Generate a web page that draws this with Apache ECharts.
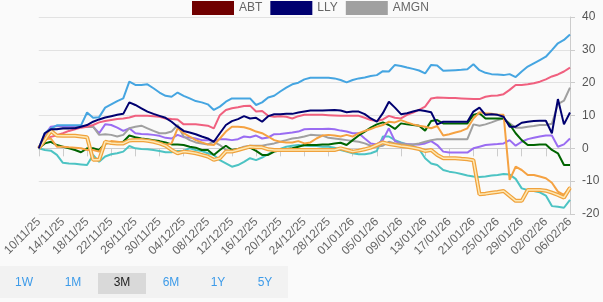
<!DOCTYPE html>
<html lang="en">
<head>
    <meta charset="UTF-8">
    <title>Performance 3M</title>
    <script src="https://cdn.jsdelivr.net/npm/echarts@6/dist/echarts.min.js"></script>
    <style>
        body { margin: 0; background: #fafafa; }
    </style>
</head>
<body>
    <div id="main" style="width: 603px;height:302px;"></div>
    <script type="text/javascript">
        // dates, one per calendar day, 10/11/25 .. 06/02/26
        var startDay = Date.UTC(2025, 10, 10);
        var dayCount = 89;
        var dates = [];
        for (var d = 0; d < dayCount; d++) {
            var t = new Date(startDay + d * 86400000);
            var dd = ('0' + t.getUTCDate()).slice(-2);
            var mm = ('0' + (t.getUTCMonth() + 1)).slice(-2);
            var yy = String(t.getUTCFullYear()).slice(-2);
            dates.push(dd + '/' + mm + '/' + yy);
        }

        var legendNames = ['ABT', 'LLY', 'AMGN'];
        var buttons = ['1W', '1M', '3M', '6M', '1Y', '5Y'];

        // % change series
        var abt = [];
        var lly = [0,4.6,5.8,5.8,6.1,6.1,6.1,6.6,7.1,8.1, 8.8,9.4,9.8,10.2,10.5,14,13.2,12.2,11.2,10.5, 9.9,9.3,8.1,6.6,5.3,4.8,4.3,3.6,3,2, 4.6,7.1,8.3,8.9,9.8,9.1,9.3,8.1,9.8,10.4, 10.4,10.5,10.5,10.9,11.2,11.5,11.5,11.5,11.6,11.7, 11.5,11,11.2,11.2,10.4,9.1,8.1,10.7,14.2,12.4, 10.4,10.7,11.2,11.7,11.4,11,7.3,8.1,8.1,8.1, 8.1,8.1,11.2,12.4,10.2,10.4,10.2,9.6,6.6,6.6, 7.8,8.1,8.3,8.4,8.4,4.6,15,7.3,10.9];
        var amgn = [0,3,5.5,6,6,6,6.3,6.5,6.5,6.6, 4.1,4.3,4.1,3.6,4.1,6.1,6.6,6.9,6.1,5.3, 4.6,4.6,5.1,7.1,3.6,2.5,1.8,1.5,1.2,2, 1,-0.5,-1,-0.2,0.5,0.8,0.8,0.8,1.2,1.5, 2,2.5,3,3.2,3.6,4.1,4,3.9,3.2,3, 2.8,2.5,2.2,2,1.5,0.8,0.5,0.8,2,1.5, 1.5,1.2,1.2,1.5,2,2.5,2.8,2.8,2.8,2.8, 2.8,2.8,7.3,6.9,7.3,7.9,8.6,9.1,7.6,6.3, 6.3,6.6,6.8,7.1,7.1,7.5,13.5,14.5,18.5];
        var blue = [0,4.6,6,7,7,7,7,7,10.9,9.3, 9.5,12.4,13.4,14.4,15.2,20.3,19.3,19.3,19.5,18.3, 17,16,15.7,17,16,15.2,14.4,14,13.4,11.7, 12.7,14.2,15.2,15.2,15.2,15.2,13.2,14,15.5,16, 17.3,18.5,19.5,20,21,21.5,21.5,21.5,21.5,21.3, 20.8,20.1,20.8,21.3,21.6,22,22.3,23.5,23.4,25.4, 25.1,24.6,24.2,23.7,22.8,25.4,25.2,23.6,23.7,23.8, 23.9,24.1,25.6,23.8,23,22.6,22.5,22.3,22.6,21.7, 23.4,24.9,25.9,26.9,27.9,29.9,32,33,34.7];
        var pink = [0,2.8,3.5,4,4.6,5.3,5.8,6.3,6.6,7.1, 7.9,8.3,8.6,8.9,9.1,9.4,9.9,9.9,9.9,9.8, 9.6,9.1,8.9,8.8,7.3,7.3,7.3,7.1,6.9,6.1, 10.1,11.7,12.2,12.5,12.9,13,11.2,11.4,9.9,9.6, 9.8,9.6,9.1,9.8,10.2,10.2,10.2,10.2,10.1,10, 9.9,9.9,9.9,9.9,9.3,8.6,8.3,8.8,9.9,9.3, 9.1,10.2,10.9,11.7,12.7,15.2,15.5,15.4,15.3,15.3, 15.2,15.1,15,15,15.7,16,16.1,16.5,17.8,19.3, 19.3,19.5,19.8,20.3,21,21.9,22.5,23.4,24.6];
        var purple = [0,4,6.6,6.8,6.8,6.8,6.8,6.8,6.6,6.6, 4.6,7.3,7.1,6.3,5.3,6.1,4.6,4.4,4.3,4.1, 3.8,3.2,3,4.1,3.4,3.3,3,2.5,2.5,2.2, 2.8,2.8,2.5,2.8,3.6,3.4,3.9,3,3.3,4.3, 4.4,4.6,4.8,5.1,5.8,5.9,5.9,5.9,6,5.8, 5.4,5.1,4.6,4.6,3,1.5,1.2,2.5,6.1,2.2, 1.5,1.3,1.2,1.2,1.5,2.2,1,-1,-1.3,-1.3, -1.3,-1.3,0,0.5,1,1.2,1.3,1.5,2.5,0.8, 2,2.8,3.2,3.6,3.9,3.9,0.5,1.2,3];
        var green = [0,1.5,2,1,0.5,0,-0.5,-1.2,0,0, -0.5,1.5,1.8,1.8,2,3.9,3.4,3,2.8,2.5, 2.2,1.8,1.2,1.2,1,0.5,0.2,-0.5,-0.5,-2, -0.5,0.8,-0.5,-0.2,0,0.2,-0.8,-2,-2,-1, -0.7,-0.3,0,0.5,1,1,1,1.2,1.2,1.5, 1.7,1,2.5,3.9,5.1,6.3,7.3,7.9,7.1,5.9, 7.6,7.3,7.1,6.9,5.4,8.3,8.6,7.6,7.6,7.6, 7.6,7.6,10.2,10.7,9.1,9.1,9.1,9.1,7.3,4.6, 2.5,1,1,1.2,1.2,-0.5,-1.5,-5.1,-5.1];
        var orange = [0,2.8,3,0.5,0.5,0.3,0.2,0,-0.5,-0.5, -1,1.5,2.2,2,1.8,2.5,2.8,2.8,2.5,2, 1.5,1,1.5,6.1,4.6,3.6,2.5,1.8,1.2,1, 3,5.1,6.6,6.6,6.4,5.9,5.1,4.6,3.6,2.5, 2,1.8,1.8,2.2,1.5,1.8,3,3.9,4.1,3.9, 3.6,4.1,3.6,4.6,5.3,5.9,6.6,7.1,8.1,7.9, 8.6,7.9,7.3,6.9,6.6,6.1,6.8,3.9,4.3,4.8, 5.3,6.1,9.1,11,10.7,10.5,10.2,10.2,-9.6,-5.6, -6.6,-8.1,-8.1,-8.6,-9.1,-10.5,-13.2,-14.2,-11.7];
        var gold = [0,2.5,5.3,3.9,3.8,3.8,3.8,3.6,3.4,-3.5, -3.5,2,1.6,1.5,1.5,2.4,2.5,2.5,2.3,2, 1.5,0.8,-0.5,-1.5,-1,-1.2,-1.5,-2,-2.5,-3.5, -3,-1,-1,-0.5,0,0.5,0.3,0.3,-0.3,-0.5, -0.5,-0.5,-0.5,-0.5,-0.5,-0.5,-0.5,-0.5,-0.5,-0.5, 0,-0.5,-1,-0.7,-0.3,0.2,1,1.8,1.3,1, 0.7,0.5,0.2,-0.2,-0.8,-0.5,-2,-3,-3,-3, -3.2,-3.3,-3.6,-14,-13.8,-13.5,-13.3,-13,-14.5,-16, -16,-12.7,-12.7,-12.7,-12.9,-13.5,-14.2,-15,-12];
        var teal = [0,-0.5,-0.7,-2,-4.4,-4.6,-4.7,-4.9,-5.1,-2, -4.1,-2.5,-1.8,-1.5,-1,0.7,0,-0.2,-0.3,-0.5, -0.8,-1.2,-1.2,-0.8,-0.7,0,-0.5,-0.8,-1.5,-2, -3.6,-4.6,-5.6,-5.1,-4.1,-3,-3.6,-2.8,-1.8,-0.8, -0.2,0.5,0.8,1,0.8,0.7,0.7,0.5,0.5,0.2, -0.5,-1,-1.5,-1.8,-1.8,-1.5,-0.8,3.6,3.6,2.5, 1.8,1.2,0.7,-0.2,-3,-4.6,-5.1,-6.6,-7.1,-7.4, -7.8,-8.3,-8.6,-8.7,-8.6,-8.3,-8.1,-7.8,-8,-9.3, -12.2,-12.7,-13,-13.4,-14.4,-17.6,-17.8,-18.1,-15.7];

        function line(name, data, color, width, z) {
            return {
                name: name,
                type: 'line',
                data: data,
                symbol: 'none',
                color: color,
                z: z || 2,
                lineStyle: { width: width || 2, color: color }
            };
        }

        var myChart = echarts.init(document.getElementById('main'));

        // button bar under the chart
        var btnGraphics = [
            { type: 'rect', left: 0, top: 266, shape: { width: 288, height: 32 }, style: { fill: '#f2f2f2' } },
            { type: 'rect', left: 98, top: 273, shape: { width: 48, height: 21 }, style: { fill: '#d9d9d9' } }
        ];
        var btnX = [24, 73, 122, 171, 218, 265];
        buttons.forEach(function (b, i) {
            btnGraphics.push({
                type: 'text',
                x: btnX[i],
                y: 283,
                style: {
                    text: b,
                    fill: b === '3M' ? '#222' : '#3d9be9',
                    font: '12px Arial',
                    align: 'center',
                    verticalAlign: 'middle'
                }
            });
        });

        var option = {
            backgroundColor: '#fafafa',
            animation: false,
            legend: {
                data: legendNames,
                left: 187,
                top: -4,
                icon: 'rect',
                itemWidth: 42,
                itemHeight: 14,
                itemGap: 8,
                textStyle: { color: '#666', fontSize: 12, fontFamily: 'Arial' }
            },
            grid: { left: 30, right: 33, top: 17, bottom: 88 },
            xAxis: {
                type: 'category',
                data: dates,
                boundaryGap: false,
                axisLine: { lineStyle: { color: '#ccc' } },
                axisTick: { interval: 3, length: 8, lineStyle: { color: '#ccc' } },
                axisLabel: { interval: 3, rotate: 45, color: '#666', fontSize: 12, fontFamily: 'Arial', margin: 6 },
                splitLine: { show: false }
            },
            yAxis: {
                type: 'value',
                position: 'right',
                min: -20,
                max: 40,
                interval: 10,
                axisLine: { show: true, lineStyle: { color: '#ccc' } },
                axisTick: { show: true, length: 5, lineStyle: { color: '#ccc' } },
                axisLabel: { color: '#555', fontSize: 12, fontFamily: 'Arial', margin: 12 },
                splitLine: { lineStyle: { color: '#e2e2e2' } }
            },
            series: [
                line('ABT', abt, '#700000'),
                line('teal', teal, '#4cc3c3'),
                line('purple', purple, '#9a6cf2'),
                line('AMGN', amgn, '#a0a0a0'),
                line('green', green, '#006400'),
                line('pink', pink, '#f0607f'),
                line('blue', blue, '#45a5e1'),
                line('orange', orange, '#f5a242'),
                line('gold', gold, '#f0a23c', 4),
                line('gold-in', gold, '#fde8b4', 1.5, 3),
                line('LLY', lly, '#000070', 2, 4)
            ],
            graphic: btnGraphics
        };

        myChart.setOption(option);
    </script>
</body>
</html>
